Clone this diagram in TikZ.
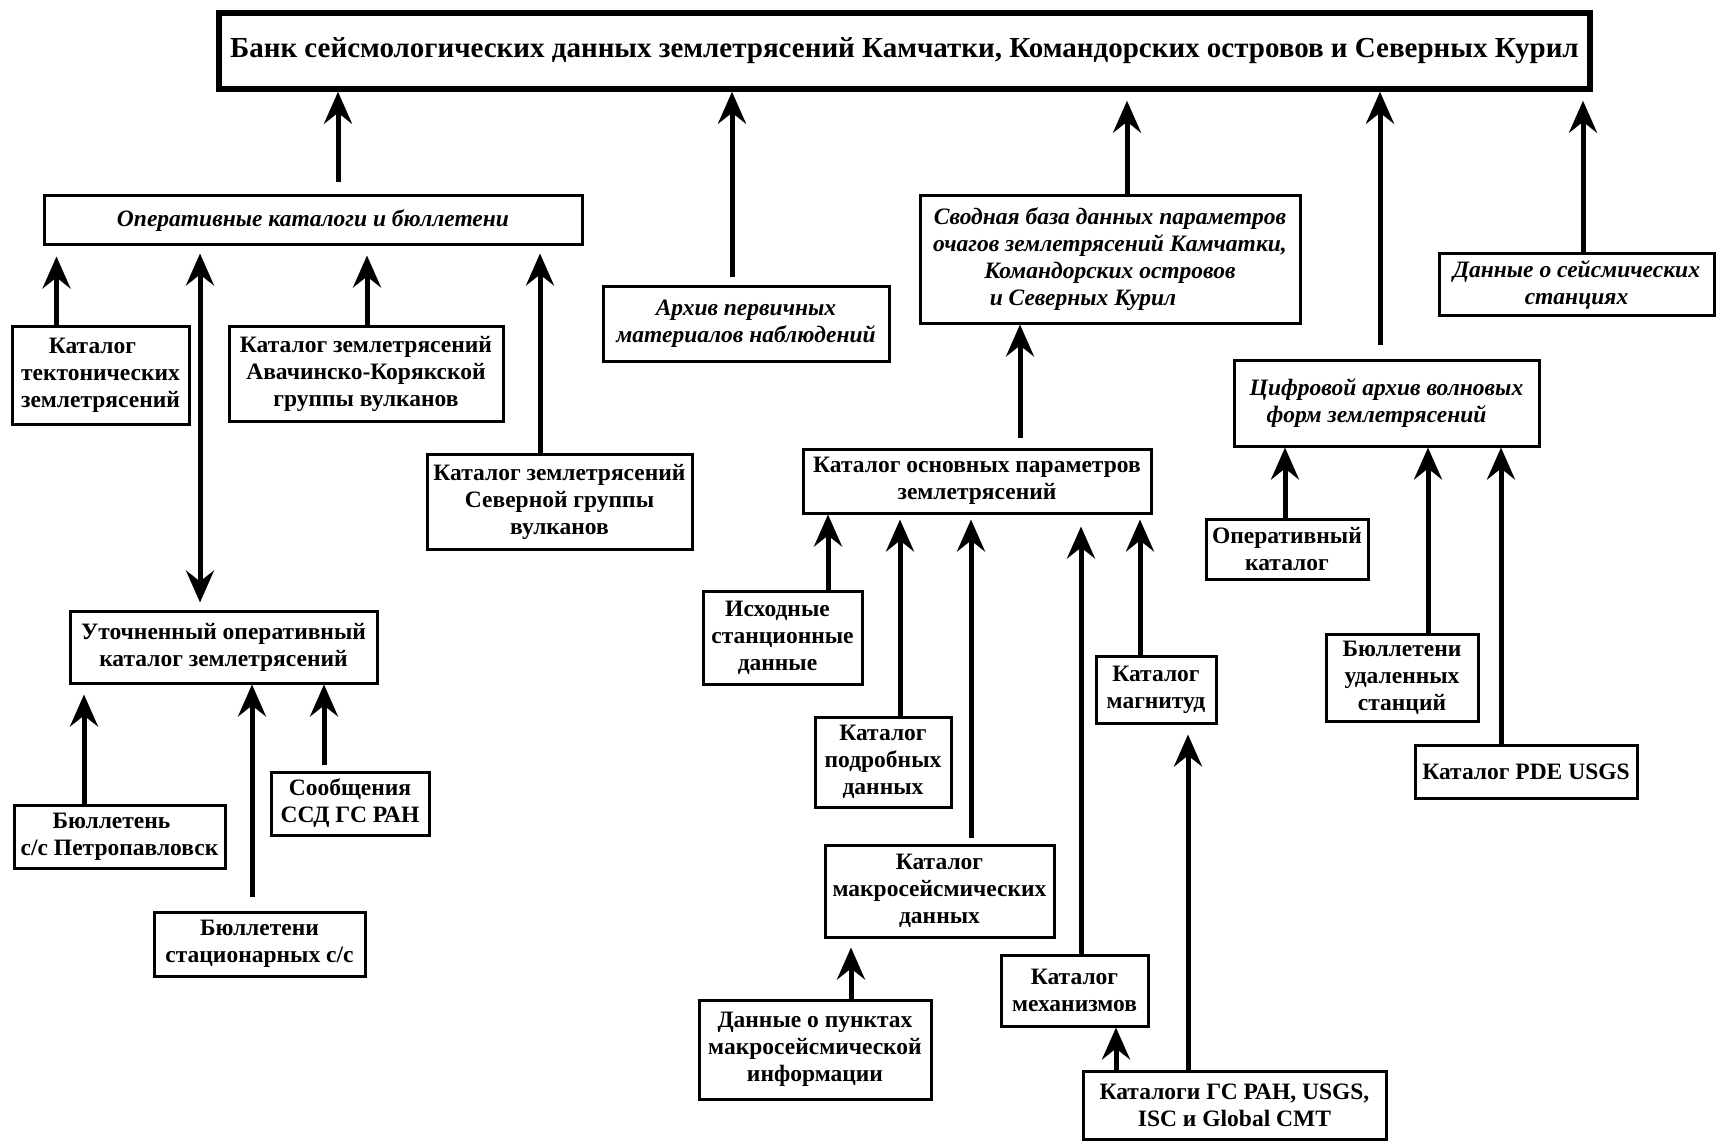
\documentclass[tikz,border=0pt]{standalone}
\usepackage{fontspec}
\setmainfont{Liberation Serif}
\usepackage{tikz}
\usetikzlibrary{arrows.meta}

\begin{document}
\begin{tikzpicture}[x=1pt,y=-1pt]
	\fill[white] (0,0) rectangle (1717,1142);
	\useasboundingbox (0,0) rectangle (1717,1142);

	\begin{scope}[every node/.style={draw,line width=3pt,inner sep=0pt,align=center,
				  font=\bfseries\fontsize{23.5}{27}\selectfont},
				  it/.style={font=\bfseries\itshape\fontsize{23.5}{27}\selectfont}]
		\node[line width=5.5pt,minimum width=1371pt,minimum height=76pt,font=\bfseries\fontsize{29}{33}\selectfont] (bank) at (904.5,51)
			{Банк сейсмологических данных землетрясений Камчатки, Командорских островов и Северных Курил};

		\node[it,minimum width=538pt,minimum height=49pt] (oper) at (313,220.5) {Оперативные каталоги и бюллетени};
		\node[minimum width=177pt,minimum height=98pt] (tekt) at (100.5,375) {Каталог\hspace*{16pt}\\тектонических\\землетрясений};
		\node[minimum width=274pt,minimum height=95pt] (avach) at (366,373.5) {Каталог землетрясений\\Авачинско-Корякской\\группы вулканов};
		\node[minimum width=265pt,minimum height=95pt] (sever) at (559.5,501.5) {Каталог землетрясений\\Северной группы\\вулканов};
		\node[minimum width=307pt,minimum height=72pt] (utoch) at (223.5,647) {Уточненный оперативный\\каталог землетрясений};
		\node[minimum width=211pt,minimum height=63pt] (bull) at (119.5,836.5) {Бюллетень\hspace*{16pt}\\с/с Петропавловск};
		\node[minimum width=158pt,minimum height=63pt] (soob) at (350,803.5) {Сообщения\\ССД ГС РАН};
		\node[minimum width=211pt,minimum height=64pt] (stac) at (259.5,944) {Бюллетени\\стационарных с/с};

		\node[it,minimum width=286pt,minimum height=74pt] (arhiv) at (746,324) {Архив первичных\\материалов наблюдений};
		\node[it,minimum width=380pt,minimum height=127pt] (svod) at (1110,259.5)
			{Сводная база данных параметров\\очагов землетрясений Камчатки,\\Командорских островов\hspace*{36pt}\\и Северных Курил\hspace*{54pt}};
		\node[minimum width=348pt,minimum height=64pt] (osn) at (977,481) {Каталог основных параметров\\землетрясений};
		\node[minimum width=159pt,minimum height=93pt] (ishod) at (782.5,637.5) {Исходные\hspace*{10pt}\\станционные\\данные\hspace*{10pt}};
		\node[minimum width=136pt,minimum height=90pt] (podr) at (883,762) {Каталог\\подробных\\данных};
		\node[minimum width=229pt,minimum height=92pt] (makro) at (939.5,891) {Каталог\\макросейсмических\\данных};
		\node[minimum width=232pt,minimum height=99pt] (punkt) at (815,1049.5) {Данные о пунктах\\макросейсмической\\информации};
		\node[minimum width=147pt,minimum height=71pt] (meh) at (1074.5,990.5) {Каталог\\механизмов};
		\node[minimum width=120pt,minimum height=67pt] (magn) at (1156,689.5) {Каталог\\магнитуд};
		\node[minimum width=303pt,minimum height=68pt] (ggs) at (1234.5,1105) {Каталоги ГС РАН, USGS,\\ISC и Global CMT};

		\node[it,minimum width=275pt,minimum height=61pt] (stanc) at (1576.5,284.5) {Данные о сейсмических\\станциях};
		\node[it,minimum width=305pt,minimum height=86pt] (cifr) at (1386.5,403) {Цифровой архив волновых\\форм землетрясений\hspace*{20pt}};
		\node[minimum width=162pt,minimum height=60pt] (operk) at (1287,549) {Оперативный\\каталог};
		\node[minimum width=152pt,minimum height=87pt] (udal) at (1402,677.5) {Бюллетени\\удаленных\\станций};
		\node[minimum width=222pt,minimum height=53pt] (pde) at (1526,771.5) {Каталог PDE USGS};
	\end{scope}

	\begin{scope}[>={Stealth[length=32pt,width=28pt,inset=11pt]},
				  every path/.style={line width=5pt}]
		\draw[->,shorten <=12pt] (oper.north -| 338,0) -- (bank.south -| 338,0);
		\draw[->,shorten <=8pt] (arhiv.north -| 732,0) -- (bank.south -| 732,0);
		\draw[->,shorten >=9pt] (svod.north -| 1127,0) -- (bank.south -| 1127,0);
		\draw[->,shorten <=14pt] (cifr.north -| 1380,0) -- (bank.south -| 1380,0);
		\draw[->,shorten >=9pt] (stanc.north -| 1583,0) -- (bank.south -| 1583,0);

		\draw[->,shorten >=10pt] (tekt.north -| 56.5,0) -- (oper.south -| 56.5,0);
		\draw[<->,shorten <=7pt,shorten >=7pt] (oper.south -| 200,0) -- (utoch.north -| 200,0);
		\draw[->,shorten >=9pt] (avach.north -| 367,0) -- (oper.south -| 367,0);
		\draw[->,shorten >=7pt] (sever.north -| 540,0) -- (oper.south -| 540,0);

		\draw[->,shorten >=10pt] (bull.north -| 84,0) -- (utoch.south -| 84,0);
		\draw[->,shorten <=14pt] (stac.north -| 252,0) -- (utoch.south -| 252,0);
		\draw[->,shorten <=6pt] (soob.north -| 324,0) -- (utoch.south -| 324,0);

		\draw[->,shorten <=10pt] (osn.north -| 1020,0) -- (svod.south -| 1020,0);
		\draw[->] (ishod.north -| 828,0) -- (osn.south -| 828,0);
		\draw[->,shorten >=5pt] (podr.north -| 900,0) -- (osn.south -| 900,0);
		\draw[->,shorten <=6pt,shorten >=5pt] (makro.north -| 971,0) -- (osn.south -| 971,0);
		\draw[->,shorten >=12pt] (meh.north -| 1081,0) -- (osn.south -| 1081,0);
		\draw[->,shorten >=5pt] (magn.north -| 1140,0) -- (osn.south -| 1140,0);
		\draw[->,shorten >=9pt] (punkt.north -| 851,0) -- (makro.south -| 851,0);
		\draw[->] (ggs.north -| 1116,0) -- (meh.south -| 1116,0);
		\draw[->,shorten >=10pt] (ggs.north -| 1188,0) -- (magn.south -| 1188,0);

		\draw[->] (operk.north -| 1285,0) -- (cifr.south -| 1285,0);
		\draw[->] (udal.north -| 1428,0) -- (cifr.south -| 1428,0);
		\draw[->] (pde.north -| 1501,0) -- (cifr.south -| 1501,0);
	\end{scope}
\end{tikzpicture}
\end{document}
